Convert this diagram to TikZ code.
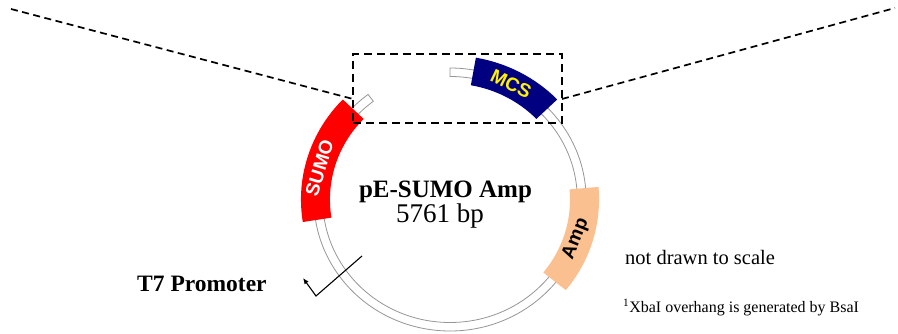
\documentclass[tikz,border=0pt]{standalone}
\usepackage{fontspec}
\setmainfont{Liberation Serif}
\newfontfamily\arialfont{Liberation Sans}
\usepackage{xcolor}
\usepackage{tikz}
\usetikzlibrary{arrows.meta,positioning}
\definecolor{sumored}{RGB}{255,0,0}
\definecolor{mcsblue}{RGB}{0,0,128}
\definecolor{ampskin}{RGB}{250,192,144}
\definecolor{ringgray}{RGB}{150,150,150}
\tikzset{
  ring/.style={draw=ringgray,fill=white,line width=0.8pt},
  feat/.style={font=\arialfont\bfseries\fontsize{19}{19}\selectfont,inner sep=0pt},
  guide/.style={dash pattern=on 7pt off 4.5pt,line width=1.7pt},
  inset/.style={draw,dash pattern=on 8pt off 5pt,line width=2.2pt,inner sep=0pt,minimum width=209pt,minimum height=69pt},
  txt/.style={inner sep=0pt,font=\fontsize{#1}{#1}\selectfont},
  btxt/.style={inner sep=0pt,font=\bfseries\fontsize{#1}{#1}\selectfont},
}
\begin{document}
\begin{tikzpicture}[x=1pt,y=1pt]
\useasboundingbox (0,0) rectangle (898,334);
\begin{scope}[shift={(450,134.5)},xscale=1.035]
\filldraw[ring] (127:131.5) arc[start angle=127,end angle=450,radius=131.5] -- (450:123) arc[start angle=450,end angle=127,radius=123] -- cycle;
\foreach \a/\b/\c in {136/189/sumored,44/80/mcsblue,-39/5/ampskin}
  \fill[\c] (\a:144) arc[start angle=\a,end angle=\b,radius=144] -- (\b:116) arc[start angle=\b,end angle=\a,radius=116] -- cycle;
\node[feat,text=yellow,rotate=-26] (mcs) at (63:130) {MCS};
\node[feat,text=white,rotate=73] (sumo) at (166:130) {SUMO};
\node[feat,rotate=68] (amp) at (-18:128) {Amp};
\end{scope}
\node[inset] (inset) at (457.5,245.5) {};
\coordinate (farL) at (11,325);
\coordinate (hitL) at (353,235);
\coordinate (hitR) at (562,235);
\coordinate (farR) at (895,326);
\draw[guide] (farL) -- (hitL);
\draw[guide] (hitR) -- (farR);
\node[btxt=25,anchor=base] (name) at (445.5,136) {pE-SUMO Amp};
\node[txt=27,anchor=base] (size) at (440,111) {5761 bp};
\node[txt=20.5,anchor=base west] (scale) at (625,69) {not drawn to scale};
\node[txt=16,anchor=base west] (note) at (623,21) {\textsuperscript{1}XbaI overhang is generated by BsaI};
\node[btxt=23.5,anchor=base west] (t7) at (137,42) {T7 Promoter};
\coordinate (t7in) at (362,78);
\coordinate (t7bend) at (316,38);
\coordinate (t7tip) at (303,56);
\draw[line width=1.1pt,-{Latex[length=6pt,width=5pt]}] (t7in) -- (t7bend) -- (t7tip);
\end{tikzpicture}
\end{document}
